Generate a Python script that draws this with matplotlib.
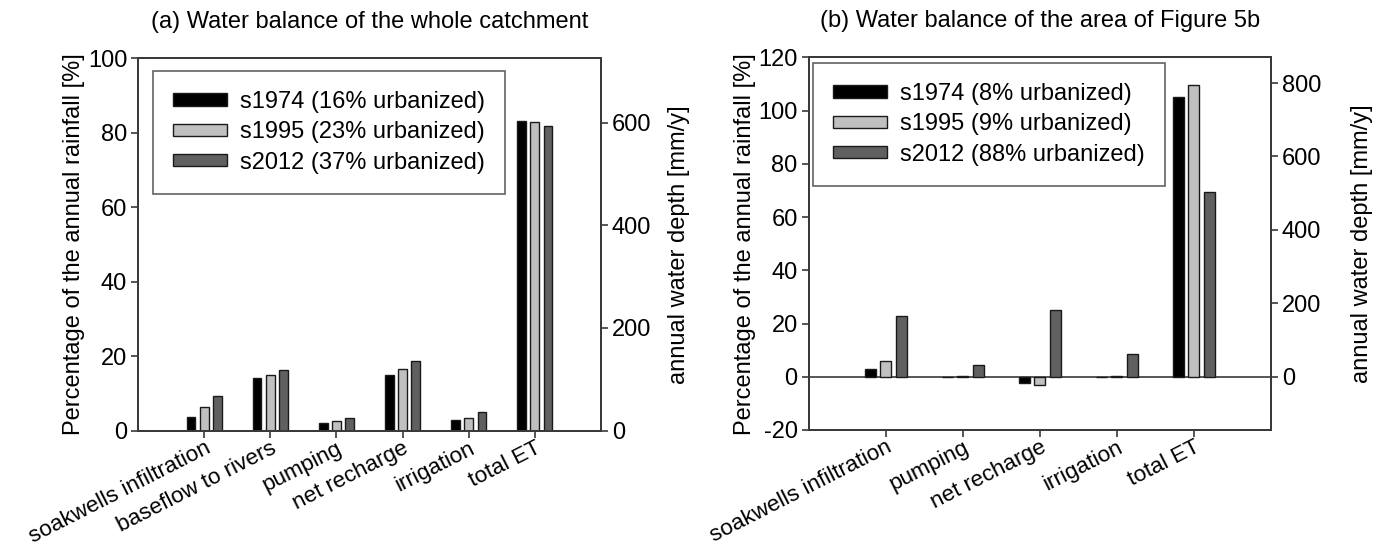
import matplotlib
matplotlib.use("Agg")
import matplotlib.pyplot as plt
import numpy as np

plt.rcParams['font.family'] = ['Liberation Sans', 'DejaVu Sans']
plt.rcParams['axes.unicode_minus'] = False

# ---- data -------------------------------------------------------------
cats_a = ["soakwells infiltration", "baseflow to rivers", "pumping",
          "net recharge", "irrigation", "total ET"]
s1974_a = [3.6, 14.1, 2.0, 15.0, 3.0, 83.1]
s1995_a = [6.3, 15.0, 2.5, 16.6, 3.3, 82.9]
s2012_a = [9.3, 16.3, 3.3, 18.8, 5.0, 81.9]
labels_a = ["s1974 (16% urbanized)", "s1995 (23% urbanized)", "s2012 (37% urbanized)"]

cats_b = ["soakwells infiltration", "pumping", "net recharge", "irrigation", "total ET"]
s1974_b = [2.9, 0.0, -2.4, 0.0, 105.2]
s1995_b = [6.1, 0.2, -3.0, 0.2, 109.6]
s2012_b = [22.9, 4.5, 25.1, 8.5, 69.4]
labels_b = ["s1974 (8% urbanized)", "s1995 (9% urbanized)", "s2012 (88% urbanized)"]

annual_rainfall_mm = 725.0   # mm/y, converts % of rainfall to water depth

colors = ["#000000", "#c0c0c0", "#606060"]
spine_col = "#3a3a3a"
FS = 17
XFS = 16.2


def panel(ax, cats, series, labels, title, ylim, yticks, rticks, bw,
          legend_bbox, rpad):
    x = np.arange(len(cats))
    offs = [-0.2, 0.0, 0.2]
    handles = []
    for vals, c, o, lab in zip(series, colors, offs, labels):
        h = ax.bar(x + o, vals, width=bw, color=c, edgecolor="#1a1a1a",
                   linewidth=1.0, label=lab, zorder=3)
        handles.append(h)
    ax.set_xlim(-1, len(cats))
    ax.set_ylim(*ylim)
    ax.set_yticks(yticks)
    ax.set_xticks(x)
    ax.set_xticklabels(cats, rotation=27, ha="right", va="top",
                       rotation_mode="anchor", fontsize=XFS)
    ax.tick_params(axis="both", direction="out", length=5, width=1.2,
                   color=spine_col, labelsize=FS, pad=3)
    ax.tick_params(axis="x", pad=0, labelsize=XFS)
    for s in ax.spines.values():
        s.set_color(spine_col)
        s.set_linewidth(1.4)
    if ylim[0] < 0:
        ax.axhline(0, color=spine_col, linewidth=1.2, zorder=2)
    ax.set_ylabel("Percentage of the annual rainfall [%]", fontsize=FS,
                  labelpad=2)
    ax.set_title(title, fontsize=FS, pad=22)

    ax2 = ax.twinx()
    ax2.set_ylim(ylim[0] * annual_rainfall_mm / 100.0,
                 ylim[1] * annual_rainfall_mm / 100.0)
    ax2.set_yticks(rticks)
    ax2.tick_params(axis="y", direction="out", length=5, width=1.2,
                    color=spine_col, labelsize=FS, pad=3)
    for s in ax2.spines.values():
        s.set_color(spine_col)
        s.set_linewidth(1.4)
    ax2.set_ylabel("annual water depth [mm/y]", fontsize=FS, labelpad=rpad)

    leg = ax.legend(handles=handles, loc="upper left",
                    bbox_to_anchor=legend_bbox, frameon=True,
                    fancybox=False, fontsize=FS, handlelength=2.3,
                    handleheight=0.42, handletextpad=0.55,
                    labelspacing=0.35, borderpad=0.85, borderaxespad=0)
    fr = leg.get_frame()
    fr.set_edgecolor(spine_col)
    fr.set_linewidth(1.2)
    leg.set_zorder(5)


fig = plt.figure(figsize=(13.81, 5.49), dpi=100)
ax_a = fig.add_axes([0.1001, 0.2155, 0.3349, 0.6783])
ax_b = fig.add_axes([0.5857, 0.2168, 0.3345, 0.6788])

panel(ax_a, cats_a, [s1974_a, s1995_a, s2012_a], labels_a,
      "(a) Water balance of the whole catchment",
      (0, 100), [0, 20, 40, 60, 80, 100], [0, 200, 400, 600], 0.13,
      (0.032, 0.966), 12)
panel(ax_b, cats_b, [s1974_b, s1995_b, s2012_b], labels_b,
      "(b) Water balance of the area of Figure 5b",
      (-20, 120), [-20, 0, 20, 40, 60, 80, 100, 120],
      [0, 200, 400, 600, 800], 0.14,
      (0.008, 0.985), 21)

fig.savefig("out.png", dpi=100)
